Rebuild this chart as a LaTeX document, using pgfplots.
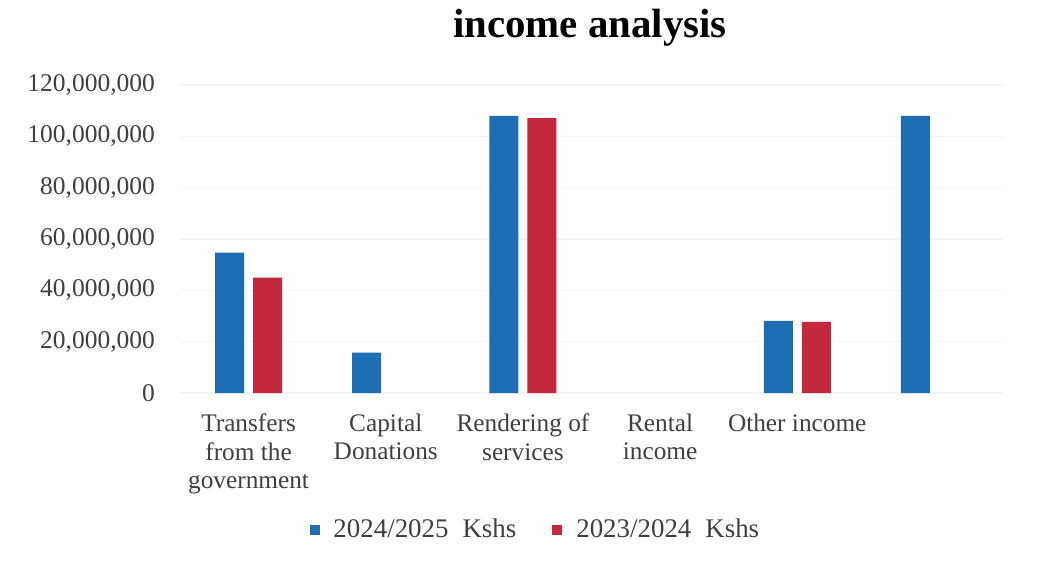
\documentclass[border=0pt]{standalone}
\usepackage{fontspec}
\setmainfont{Liberation Serif}
\usepackage{pgfplots}
\pgfplotsset{compat=1.18}
\definecolor{blueS}{RGB}{30,110,180}
\definecolor{redS}{RGB}{196,40,62}
\definecolor{txt}{RGB}{64,64,64}
\begin{document}
\begin{tikzpicture}
\path[use as bounding box, fill=white] (-90bp,-88bp) rectangle (431.5bp,196.5bp);
\begin{axis}[
    scale only axis,
    width=411.5bp, height=154bp,
    xmin=-0.5, xmax=5.5,
    ymin=0, ymax=120000000,
    ytick={0,20000000,...,120000000},
    xtick={0,...,5},
    xticklabels={{Transfers\\from the\\government},{Capital\\Donations},{Rendering of\\services},{Rental\\income},{Other income},{}},
    xticklabel style={align=center, font=\fontsize{12.7}{14.25}\selectfont, text=txt, yshift=-7bp},
    yticklabel style={font=\fontsize{12.8}{15}\selectfont, text=txt, xshift=-9bp},
    scaled y ticks=false,
    /pgf/number format/.cd, fixed, precision=0, 1000 sep={,}, assume math mode=true,
    /pgfplots/.cd,
    axis line style={draw=none},
    major tick length=0pt,
    ymajorgrids,
    grid style={gray!9, line width=0.6pt},
    ybar, bar width=14.5bp,
    legend style={at={(0.433,-0.445)}, anchor=center, draw=none, legend columns=2,
        font=\fontsize{13.5}{16}\selectfont, text=txt,
        /tikz/every even column/.append style={column sep=16bp}},
    legend image code/.code={\fill[#1, draw=none] (0bp,-2.5bp) rectangle (5bp,2.5bp);
        \path[draw=none, fill=none] (0bp,-2.5bp) rectangle (10bp,2.5bp);},
]
\addplot[fill=blueS, draw=none, bar shift=-9.5bp] coordinates {
    (0,54700000) (1,15700000) (2,108000000) (4,28100000) (5,108000000)};
\addlegendentry{2024/2025\hspace{7bp}Kshs}
\addplot[fill=redS, draw=none, bar shift=9.5bp] coordinates {
    (0,45000000) (2,107100000) (4,27700000)};
\addlegendentry{2023/2024\hspace{7bp}Kshs}
\end{axis}
\node[font=\fontsize{20.5}{24}\selectfont\bfseries] at (205bp,182.5bp) {income analysis};
\end{tikzpicture}
\end{document}
